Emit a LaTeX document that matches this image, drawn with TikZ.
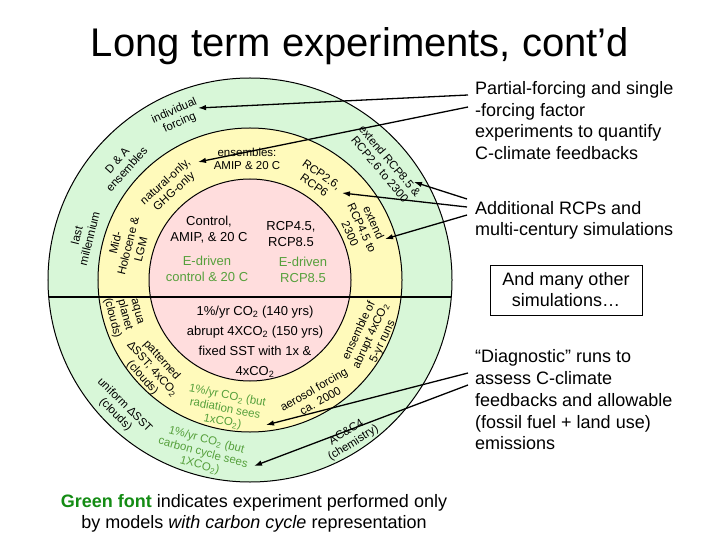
\documentclass[tikz,border=0pt]{standalone}
\usepackage{fontspec}
\setmainfont{Liberation Sans}
\usepackage{tikz}
\usetikzlibrary{arrows.meta}
\definecolor{ringgreen}{RGB}{216,247,216}
\definecolor{ringyellow}{RGB}{255,250,187}
\definecolor{corepink}{RGB}{255,221,221}
\definecolor{cctext}{RGB}{86,160,60}
\definecolor{legendgreen}{RGB}{20,140,20}
\newcommand{\cotwo}{CO\textsubscript{2}}

\begin{document}
\begin{tikzpicture}[x=1bp,y=-1bp,
  ring/.style={font=\fontsize{11.5bp}{13bp}\selectfont,align=center,inner sep=0pt},
  core/.style={font=\fontsize{13bp}{16bp}\selectfont,align=center,inner sep=0pt},
  cc/.style={text=cctext},
  note/.style={font=\fontsize{18bp}{21.6bp}\selectfont,align=left,anchor=west,inner sep=0pt},
  arr/.style={-{Latex[length=8bp,width=5.5bp]},line width=1.3bp}]
  \useasboundingbox (0,0) rectangle (720,540);
  \fill[white] (0,0) rectangle (720,540);
  % target rings
  \filldraw[fill=ringgreen,line width=1bp] (250,280) circle[radius=202bp];
  \filldraw[fill=ringyellow,line width=1bp] (250,280) circle[radius=152bp];
  \filldraw[fill=corepink,line width=1bp] (250,280) circle[radius=101bp];
  \draw[line width=1.8bp] (48.7,297) -- (451.3,297);

  \node[font=\fontsize{40bp}{44bp}\selectfont] (title) at (360,46.5) {Long term experiments, cont’d};

  % core
  \node[core] (ctrl)   at (209,230) {Control,\\AMIP, \& 20 C};
  \node[core] (rcp45)  at (291,234) {RCP4.5,\\RCP8.5};
  \node[core,cc] (edctrl) at (207,269) {E-driven\\control \& 20 C};
  \node[core,cc] (edrcp)  at (303,270) {E-driven\\RCP8.5};
  \node[core,font=\fontsize{13bp}{20bp}\selectfont] (abrupt) at (255,342)
    {1\%/yr \cotwo{} (140 yrs)\\abrupt 4X\cotwo{} (150 yrs)\\fixed SST with 1x \&\\4x\cotwo};

  % yellow ring
  \node[ring] (ens)     at (247,159) {ensembles:\\AMIP \& 20 C};
  \node[ring,rotate=42] (natghg) at (170,187) {natural-only,\\GHG-only};
  \node[ring,rotate=76] (midhol) at (128,246) {Mid-\\Holocene \&\\LGM};
  \node[ring,rotate=-35] (rcp26) at (318,180) {RCP2.6,\\RCP6};
  \node[ring,rotate=-65] (ext45) at (362,228) {extend\\RCP4.5 to\\2300};
  \node[ring,rotate=-75] (aqua)  at (124,315) {aqua\\planet\\(clouds)};
  \node[ring,rotate=-48] (pattern) at (152,369) {patterned\\ΔSST; 4x\cotwo\\(clouds)};
  \node[ring,cc,rotate=-11] (radco) at (225,409) {1\%/yr \cotwo{} (but\\radiation sees\\1x\cotwo)};
  \node[ring,rotate=30] (aer)   at (317,395) {aerosol forcing\\ca. 2000};
  \node[ring,rotate=65] (ens4x) at (371,336) {ensemble of\\abrupt 4x\cotwo\\5-yr runs};

  % green ring
  \node[ring,rotate=24] (indiv)   at (177,117) {individual\\forcing};
  \node[ring,rotate=48] (dna)     at (122,165) {D \& A\\ensembles};
  \node[ring,rotate=76] (lastmil) at (83,237) {last\\millennium};
  \node[ring,rotate=-50] (ext85)  at (385,165) {extend RCP8.5 \&\\RCP2.6 to 2300};
  \node[ring,rotate=-45] (uniform) at (120,410) {uniform ΔSST\\(clouds)};
  \node[ring,cc,rotate=-15] (carbco) at (203,453) {1\%/yr \cotwo{} (but\\carbon cycle sees\\1X\cotwo)};
  \node[ring,rotate=32] (chem)    at (350,438) {AC\&C4\\(chemistry)};

  % notes on the right
  \node[note] (partial) at (475,120.5) {Partial-forcing and single\\-forcing factor\\experiments to quantify\\C-climate feedbacks};
  \node[note] (addrcp) at (475,220.5) {Additional RCPs and\\multi-century simulations};
  \node[draw,line width=0.8bp,font=\fontsize{18bp}{21bp}\selectfont,align=center,
        minimum width=152bp,minimum height=50bp,inner sep=0pt] (many) at (566,290) {And many other\\simulations…};
  \node[note,font=\fontsize{18bp}{21.75bp}\selectfont] (diag) at (475,400)
    {“Diagnostic” runs to\\assess C-climate\\feedbacks and allowable\\(fossil fuel + land use)\\emissions};
  \node[font=\fontsize{18bp}{21bp}\selectfont,align=center,inner sep=0pt] (legend) at (254,513)
    {\textbf{\textcolor{legendgreen}{Green font}} indicates experiment performed only\\by models \textit{with carbon cycle} representation};

  % arrows
  \coordinate (p1) at (468,95);  \coordinate (t1) at (198,108);
  \coordinate (p2) at (468,107); \coordinate (t2) at (198,162);
  \coordinate (p3) at (467,199); \coordinate (t3) at (414,182);
  \coordinate (p4) at (467,207); \coordinate (t4) at (342,193);
  \coordinate (p5) at (467,215); \coordinate (t5) at (385,239);
  \coordinate (p6) at (468,373); \coordinate (t6) at (266,425);
  \coordinate (p7) at (468,385); \coordinate (t7) at (254,466);
  \foreach \i in {1,...,7}
    \draw[arr] (p\i) -- (t\i);
\end{tikzpicture}
\end{document}
